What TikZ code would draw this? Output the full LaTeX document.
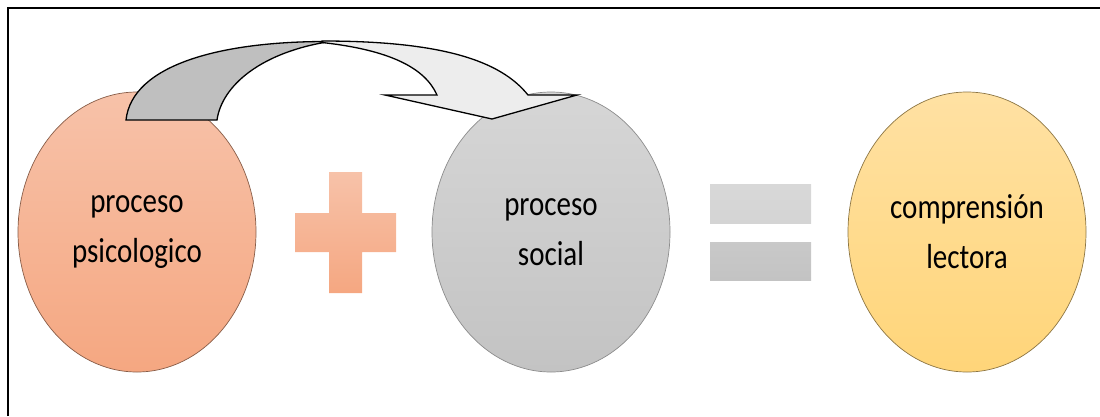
\documentclass[tikz,border=0pt]{standalone}
\usepackage{fontspec}
\setmainfont{Carlito}
\usetikzlibrary{shapes.geometric}
\definecolor{salmonTop}{HTML}{F7C2A9}
\definecolor{salmonBot}{HTML}{F5A781}
\definecolor{grayTop}{HTML}{D6D6D6}
\definecolor{grayBot}{HTML}{C3C3C3}
\definecolor{yelTop}{HTML}{FFE1A3}
\definecolor{yelBot}{HTML}{FFD579}
\definecolor{arrowDark}{HTML}{BFBFBF}
\definecolor{arrowLight}{HTML}{EDEDED}
\newcommand\vstretch[1]{\scalebox{1}[1.2]{#1}}
\tikzset{
  bubble/.style={ellipse, minimum width=238pt, minimum height=280pt, inner sep=0pt,
    align=center, line width=0.7pt, font=\fontsize{29}{50}\selectfont},
  arrowpart/.style={draw=black, line width=1.3pt, line join=miter},
}
\begin{document}
\begin{tikzpicture}[x=1pt,y=-1pt]
\useasboundingbox (0,0) rectangle (1100,416);
% frame
\draw[line width=2pt] (8.3,416) -- (8.3,8.3) -- (1100,8.3);
% ellipses
\node[bubble, draw=black!45!salmonBot, top color=salmonTop, bottom color=salmonBot] (psi) at (137,232)
  {\vstretch{proceso}\\\vstretch{psicologico}};
\node[bubble, draw=black!45, top color=grayTop, bottom color=grayBot] (soc) at (551,232)
  {\vstretch{proceso}\\\vstretch{social}};
\node[bubble, draw=black!45!yelBot, top color=yelTop, bottom color=yelBot] (com) at (967,232)
  {\vstretch{comprensión}\\\vstretch{lectora}};
% plus
\shade[top color=salmonTop, bottom color=salmonBot]
  (295,213) -- (329,213) -- (329,172) -- (362,172) -- (362,213) -- (396,213)
  -- (396,252) -- (362,252) -- (362,293) -- (329,293) -- (329,252) -- (295,252) -- cycle;
% equals
\shade[top color=grayTop!95!white, bottom color=grayTop!90!grayBot] (710,184) rectangle (811,223);
\shade[top color=grayBot!70!grayTop, bottom color=grayBot] (710,242) rectangle (811,280);
% curved arrow: back (dark) part
\draw[arrowpart, fill=arrowDark]
  (126,120) -- (217,120) .. controls (222,85) and (262,52) .. (330,41.5)
  .. controls (220,41) and (132,65) .. (126,120) -- cycle;
% front (light) part
\draw[arrowpart, fill=arrowLight]
  (322,41) .. controls (440,41) and (500,60) .. (528,95) -- (577,95) -- (492,119)
  -- (385,95) -- (437,95) .. controls (425,68) and (390,50) .. (322,42.5) -- cycle;
\end{tikzpicture}
\end{document}
